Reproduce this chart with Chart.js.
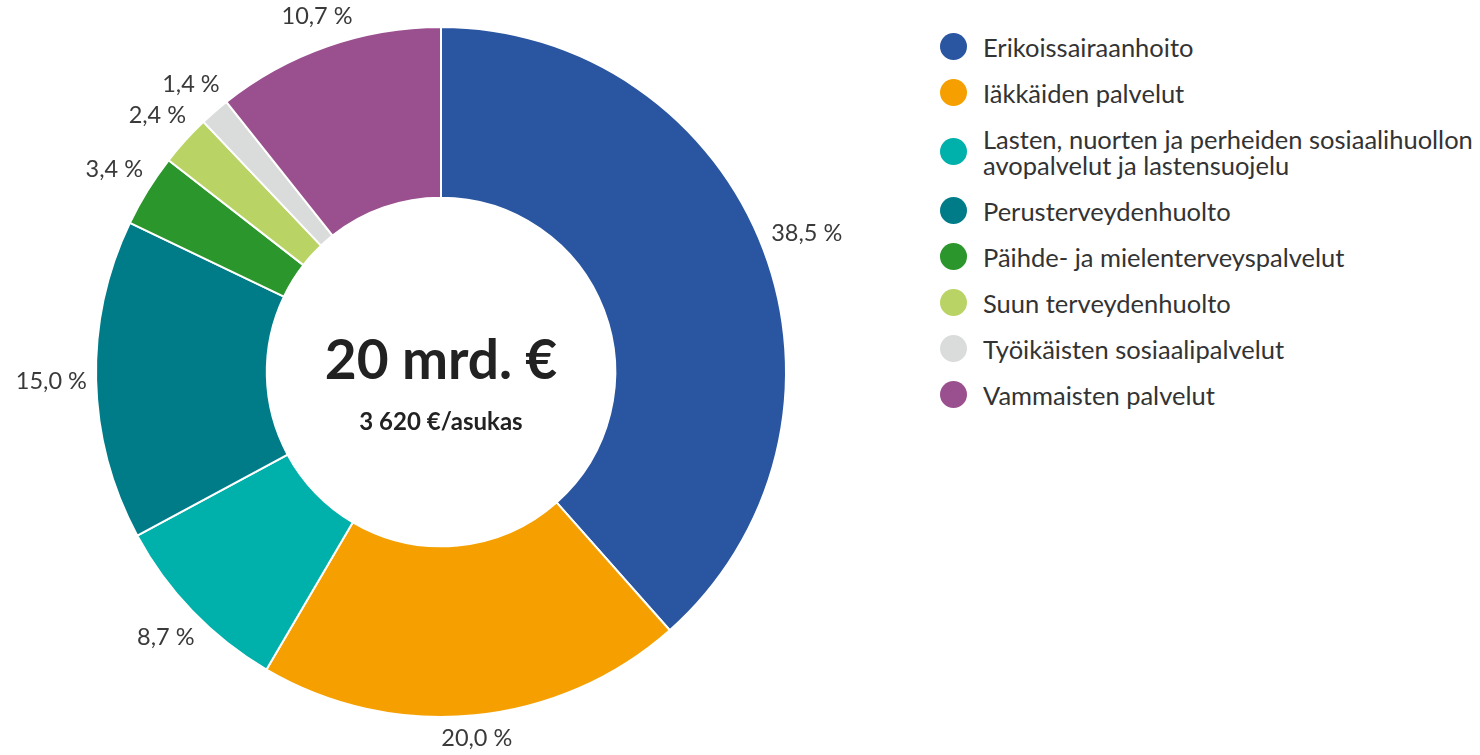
<!DOCTYPE html>
<html><head><meta charset="utf-8">
<script src="https://cdn.jsdelivr.net/npm/chart.js@4"></script>
<style>
html,body{margin:0;padding:0;background:#fff;width:1480px;height:755px;overflow:hidden;font-family:Lato,"Open Sans",sans-serif}
#wrap{position:absolute;left:0;top:0;width:882px;height:755px}
#legend{position:absolute;left:940px;top:33.5px;margin:0;padding:0;list-style:none;color:#333;font-size:25.5px;line-height:26px;white-space:nowrap}
#legend li{display:flex;align-items:center;margin-bottom:20px}
#legend .dot{width:27px;height:27px;border-radius:50%;flex:0 0 27px;margin:-0.5px 16px -0.5px 0}
</style></head>
<body>
<div id="wrap"><canvas id="c" width="882" height="755"></canvas></div>
<ul id="legend"></ul>
<script>
const categories = [
  "Erikoissairaanhoito",
  "Iäkkäiden palvelut",
  ["Lasten, nuorten ja perheiden sosiaalihuollon", "avopalvelut ja lastensuojelu"],
  "Perusterveydenhuolto",
  "Päihde- ja mielenterveyspalvelut",
  "Suun terveydenhuolto",
  "Työikäisten sosiaalipalvelut",
  "Vammaisten palvelut"
];
const shares = [38.5, 20.0, 8.7, 15.0, 3.4, 2.4, 1.4, 10.7];
const colors = ["#2A55A1", "#F5A000", "#00B0AA", "#007C89", "#2B962B", "#B9D464", "#DADCDB", "#9A508E"];
const centerTitle = "20 mrd. €";
const centerSub = "3 620 €/asukas";

// HTML legend built from arrays
const leg = document.getElementById('legend');
categories.forEach((c, i) => {
  const li = document.createElement('li');
  const d = document.createElement('span'); d.className = 'dot'; d.style.background = colors[i];
  const t = document.createElement('span');
  t.innerHTML = (Array.isArray(c) ? c : [c]).map(s => s.replace(/&/g,'&amp;')).join('<br>');
  li.appendChild(d); li.appendChild(t); leg.appendChild(li);
});

const fmt = v => v.toFixed(1).replace('.', ',') + ' %';

const outLabels = {
  id: 'outLabels',
  afterDatasetsDraw(chart) {
    const ctx = chart.ctx;
    const meta = chart.getDatasetMeta(0);
    ctx.save();
    ctx.font = '23.5px Lato, "Open Sans", sans-serif';
    ctx.fillStyle = '#3a3a3a';
    ctx.textAlign = 'center';
    ctx.textBaseline = 'middle';
    meta.data.forEach((arc, i) => {
      const p = arc.getProps(['x','y','startAngle','endAngle','outerRadius'], true);
      const mid = (p.startAngle + p.endAngle) / 2;
      const txt = fmt(shares[i]);
      const hw = ctx.measureText(txt).width / 2, hh = 11;
      const c = Math.cos(mid), s = Math.sin(mid);
      const r = p.outerRadius + 9 + hw * Math.abs(c) + hh * Math.abs(s);
      ctx.fillText(txt, p.x + c * r, p.y + s * r);
    });
    ctx.restore();
  }
};

const centerText = {
  id: 'centerText',
  afterDraw(chart) {
    const ctx = chart.ctx;
    const a = chart.getDatasetMeta(0).data[0];
    ctx.save();
    ctx.fillStyle = '#222';
    ctx.textAlign = 'center';
    ctx.textBaseline = 'middle';
    ctx.font = 'bold 55px Lato, "Open Sans", sans-serif';
    ctx.fillText(centerTitle, a.x, a.y - 11);
    ctx.font = 'bold 24px Lato, "Open Sans", sans-serif';
    ctx.fillText(centerSub, a.x, a.y + 50);
    ctx.restore();
  }
};

new Chart(document.getElementById('c'), {
  type: 'doughnut',
  data: {
    labels: categories.map(c => Array.isArray(c) ? c.join(' ') : c),
    datasets: [{ data: shares, backgroundColor: colors, borderColor: '#fff', borderWidth: 2 }]
  },
  options: {
    responsive: false,
    animation: false,
    cutout: '50.5%',
    layout: { padding: { left: 95, right: 95, top: 26, bottom: 37 } },
    plugins: { legend: { display: false }, tooltip: { enabled: false } }
  },
  plugins: [outLabels, centerText]
});
</script>
</body></html>
